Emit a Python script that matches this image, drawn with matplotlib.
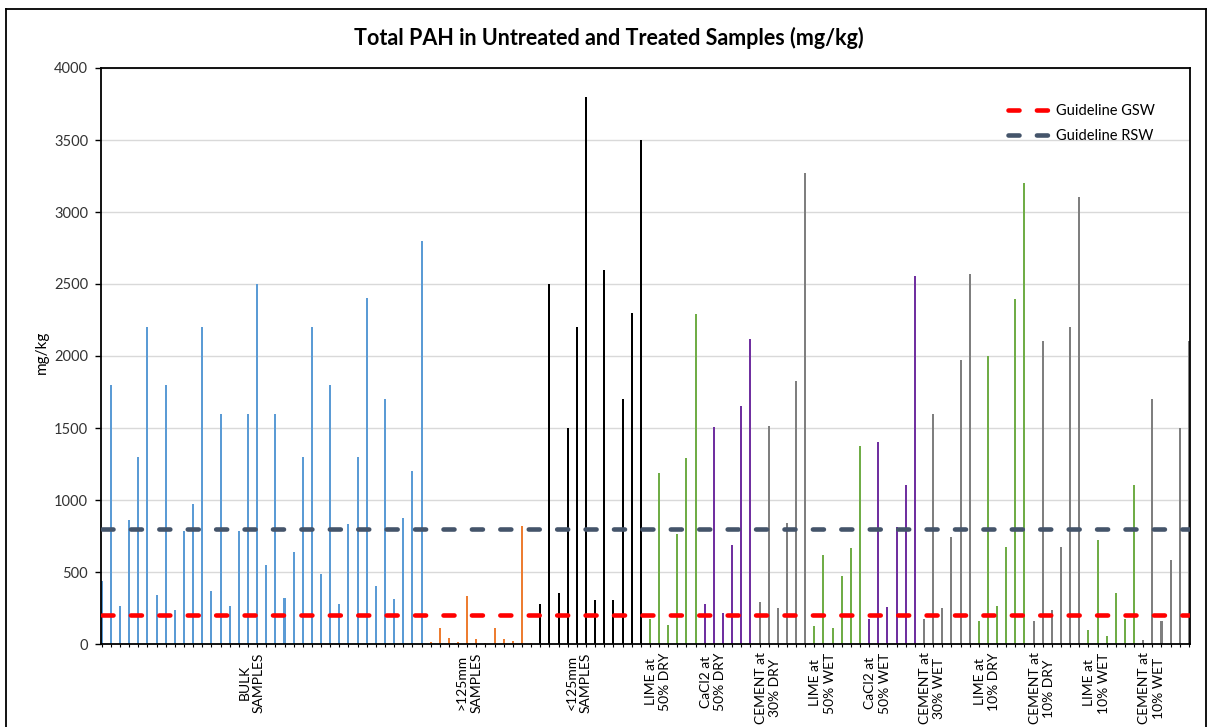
import matplotlib
matplotlib.use("Agg")
import matplotlib.pyplot as plt
import numpy as np
from matplotlib.lines import Line2D

plt.rcParams['font.family'] = ['Lato', 'DejaVu Sans']

# ---------------- data ----------------
bulk = [435, 1800, 263, 863, 1300, 2200, 342, 1800, 239, 783, 971, 2200,
        369, 1600, 263, 783, 1600, 2500, 549, 1600, 318, 640, 1300, 2200,
        483, 1800, 279, 833, 1300, 2400, 403, 1700, 311, 876, 1200, 2800]
gt125 = [13, 111, 40, 16, 332, 32, 8, 111, 32, 19, 820, 8]
lt125 = [276, 2500, 356, 1500, 2200, 3800, 303, 2600, 303, 1700, 2300, 3500]
lime_50_dry = [175, 1186, 133, 762, 1293, 2291]
cacl2_50_dry = [281, 1505, 212, 687, 1654, 2121]
cement_30_dry = [295, 1513, 252, 841, 1829, 3273]
lime_50_wet = [127, 618, 114, 472, 669, 1378]
cacl2_50_wet = [175, 1401, 260, 812, 1102, 2559]
cement_30_wet = [175, 1598, 252, 743, 1970, 2569]
lime_10_dry = [162, 1999, 263, 672, 2399, 3198]
cement_10_dry = [162, 2102, 236, 672, 2203, 3103]
lime_10_wet = [98, 725, 56, 356, 173, 1102]
cement_10_wet = [29, 1701, 162, 581, 1500, 2102]

group_labels = ["BULK\nSAMPLES", ">125mm\nSAMPLES", "<125mm\nSAMPLES",
                "LIME at\n50% DRY", "CaCl2 at\n50% DRY", "CEMENT at\n30% DRY",
                "LIME at\n50% WET", "CaCl2 at\n50% WET", "CEMENT at\n30% WET",
                "LIME at\n10% DRY", "CEMENT at\n10% DRY", "LIME at\n10% WET",
                "CEMENT at\n10% WET"]

guideline_gsw = 200
guideline_rsw = 800

# ---------------- styling ----------------
BLUE = "#5B9BD5"
ORANGE = "#ED7D31"
BLACK = "#000000"
GREEN = "#70AD47"
PURPLE = "#7030A0"
GRAY = "#7F7F7F"

groups = [
    (bulk, BLUE), (gt125, ORANGE), (lt125, BLACK),
    (lime_50_dry, GREEN), (cacl2_50_dry, PURPLE), (cement_30_dry, GRAY),
    (lime_50_wet, GREEN), (cacl2_50_wet, PURPLE), (cement_30_wet, GRAY),
    (lime_10_dry, GREEN), (cement_10_dry, GRAY), (lime_10_wet, GREEN),
    (cement_10_wet, GRAY),
]
# label placement offsets (layout, relative to group start)
label_offsets = [16.4, 4.2, 4.2] + [0.9] * 10

W, H = 1212, 727
fig = plt.figure(figsize=(W / 100, H / 100), dpi=100)
ax = fig.add_axes([100.7 / W, 1 - 644 / H, (1190 - 100.7) / W, (644 - 68) / H])

start = 0
label_pos = []
for (vals, col), off in zip(groups, label_offsets):
    x = np.arange(start, start + len(vals))
    ax.bar(x, vals, width=0.22, color=col, zorder=2)
    label_pos.append(start + off)
    start += len(vals)
n = start
xs = np.arange(n)

lw = 3.3
ax.plot(xs, np.full(n, guideline_gsw), color="#FF0000", lw=lw,
        dashes=(2.4, 3.8), dash_capstyle='round', zorder=3, label="Guideline GSW")
ax.plot(xs, np.full(n, guideline_rsw), color="#44546A", lw=lw,
        dashes=(2.4, 3.8), dash_capstyle='round', zorder=3, label="Guideline RSW")

ax.set_xlim(-0.12, n - 1 + 0.12)
ax.set_ylim(0, 4000)
ax.set_yticks(np.arange(0, 4001, 500))
ax.yaxis.grid(True, color="#D9D9D9", lw=1.0, zorder=0)
ax.set_axisbelow(True)
ax.tick_params(axis='y', length=4, width=1, pad=5, labelsize=10.5, labelcolor="#333333")

ax.set_xticks(label_pos)
ax.set_xticklabels(group_labels, rotation=90, fontsize=10, va='top', ha='center',
                   multialignment='center', linespacing=1.25)
ax.tick_params(axis='x', which='major', length=0, pad=6)
ax.set_xticks(xs, minor=True)
ax.tick_params(axis='x', which='minor', length=2.5, width=0.8, color="#000000")

for s in ax.spines.values():
    s.set_color("black")
    s.set_linewidth(1.3)

leg = ax.legend(loc='upper left', bbox_to_anchor=(1008 / W, 1 - 104 / H),
                bbox_transform=fig.transFigure, frameon=False, fontsize=10.5,
                handlelength=2.9, handletextpad=0.4, labelspacing=0.75,
                borderpad=0, borderaxespad=0)

fig.text(609 / W, 1 - 38 / H, "Total PAH in Untreated and Treated Samples (mg/kg)",
         ha='center', va='center', fontsize=15.5, fontweight='bold')
fig.text(42 / W, 1 - 352 / H, "mg/kg", rotation=90, ha='center', va='center',
         fontsize=11)

# outer chart border
for xy in [([6 / W, 6 / W], [0, 1 - 9 / H]),
           ([6 / W, 1206 / W], [1 - 9 / H, 1 - 9 / H]),
           ([1206 / W, 1206 / W], [0, 1 - 9 / H])]:
    fig.add_artist(Line2D(xy[0], xy[1], color='black', lw=1.3,
                          transform=fig.transFigure))

fig.savefig("out.png", dpi=100)
